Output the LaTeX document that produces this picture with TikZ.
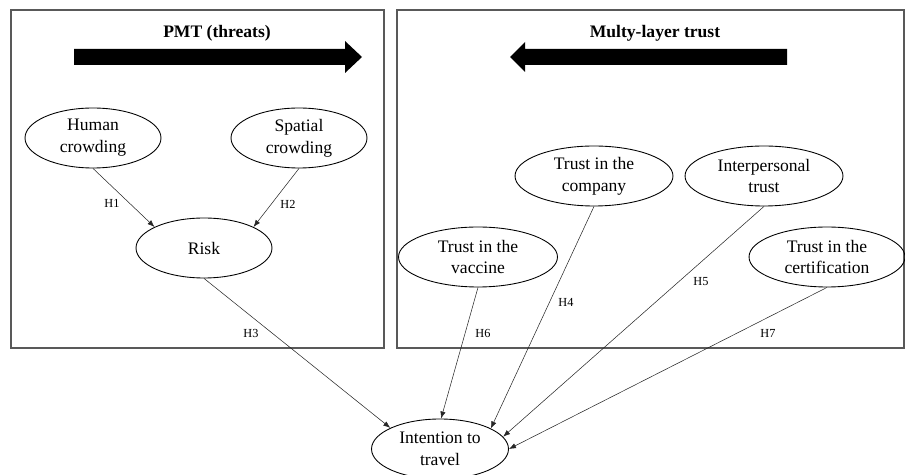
\documentclass[tikz,border=0pt]{standalone}
\usepackage{fontspec}
\setmainfont{Liberation Serif}
\usetikzlibrary{shapes.geometric,arrows.meta}

\begin{document}
\begin{tikzpicture}[x=0.02cm, y=-0.02cm,
  factor/.style={draw, ellipse, line width=0.5pt, inner sep=0pt, minimum height=1.2cm, align=center, font=\fontsize{10}{12.5}\selectfont},
  hyp/.style={-{Latex[length=4pt,width=3pt]}, line width=0.3pt, draw=black!85},
  hlabel/.style={inner sep=0pt, font=\fontsize{7}{8}\selectfont},
  panel/.style={draw=black!65, line width=0.7pt},
  title/.style={inner sep=0pt, font=\bfseries\fontsize{10}{12}\selectfont}]
\useasboundingbox (0,0) rectangle (905,475);
% panels
\draw[panel] (11,10) rectangle (384,348);
\draw[panel] (397,10) rectangle (904,348);
% big arrows and titles
\node[title] (pmt) at (217,33) {PMT (threats)};
\fill (74,49) -- (345,49) -- (345,41) -- (362,57) -- (345,73) -- (345,65) -- (74,65) -- cycle;
\node[title] (mlt) at (655,33) {Multy-layer trust};
\fill (787,49) -- (525,49) -- (525,42) -- (510,57) -- (525,72) -- (525,65) -- (787,65) -- cycle;
% factors
\node[factor, minimum width=2.72cm] (human) at (93,138) {Human\\crowding};
\node[factor, minimum width=2.72cm] (spatial) at (299,138) {Spatial\\crowding};
\node[factor, minimum width=2.72cm] (risk) at (204,248) {Risk};
\node[factor, minimum width=3.16cm] (company) at (594,176) {Trust in the\\company};
\node[factor, minimum width=3.16cm] (inter) at (764,176) {Interpersonal\\trust};
\node[factor, minimum width=3.18cm] (vaccine) at (478,257) {Trust in the\\vaccine};
\node[factor, minimum width=3.12cm] (cert) at (827,257) {Trust in the\\certification};
\node[factor, minimum width=2.74cm] (intent) at (440,449) {Intention to\\travel};
% hypotheses
\draw[hyp] (human.south) -- (risk.157);
\draw[hyp] (spatial.south) -- (risk.23);
\draw[hyp] (risk.south) -- (intent.157);
\draw[hyp] (vaccine.south) -- (intent.88);
\draw[hyp] (company.south) -- (intent.22);
\draw[hyp] (inter.south) -- (intent.11);
\draw[hyp] (cert.south) -- (intent.0);
\node[hlabel] (h1) at (112,203) {H1};
\node[hlabel] (h2) at (288,204) {H2};
\node[hlabel] (h3) at (251,333) {H3};
\node[hlabel] (h4) at (566,302) {H4};
\node[hlabel] (h5) at (701,282) {H5};
\node[hlabel] (h6) at (483,333) {H6};
\node[hlabel] (h7) at (768,333) {H7};
\end{tikzpicture}
\end{document}
